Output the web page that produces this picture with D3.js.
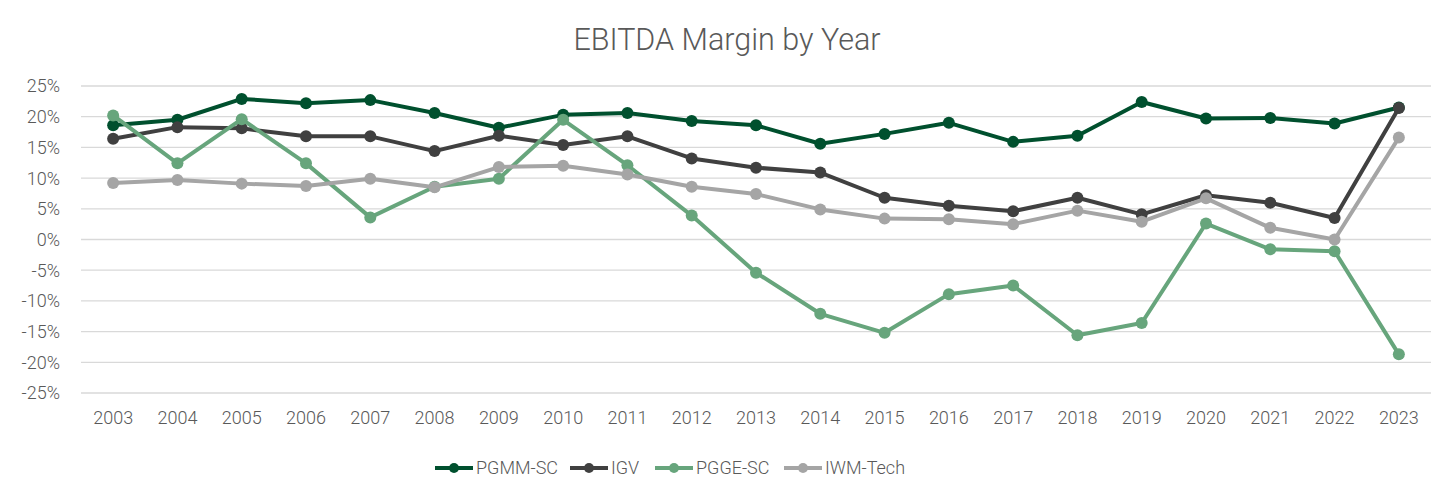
<!DOCTYPE html>
<html>
<head>
<meta charset="utf-8">
<script src="https://cdn.jsdelivr.net/npm/d3@7"></script>
<style>
  body { margin: 0; background: #fff; }
  svg text { font-family: Roboto, "Noto Sans", sans-serif; font-weight: 300; fill: #595959; }
</style>
</head>
<body>
<div id="chart"></div>
<script>
var years = ["2003","2004","2005","2006","2007","2008","2009","2010","2011","2012","2013",
             "2014","2015","2016","2017","2018","2019","2020","2021","2022","2023"];

var pgmm = [18.6, 19.5, 22.9, 22.2, 22.7, 20.6, 18.2, 20.3, 20.6, 19.3, 18.6,
            15.6, 17.2, 19.0, 15.9, 16.9, 22.4, 19.7, 19.8, 18.9, 21.5];
var igv  = [16.4, 18.3, 18.1, 16.8, 16.8, 14.4, 16.9, 15.4, 16.8, 13.2, 11.7,
            10.9, 6.8, 5.5, 4.6, 6.8, 4.1, 7.2, 6.0, 3.5, 21.4];
var pgge = [20.2, 12.4, 19.6, 12.4, 3.6, 8.6, 9.9, 19.5, 12.1, 3.9, -5.4,
            -12.1, -15.2, -8.9, -7.5, -15.6, -13.6, 2.6, -1.6, -1.9, -18.7];
var iwm  = [9.2, 9.7, 9.1, 8.7, 9.9, 8.5, 11.8, 12.0, 10.6, 8.6, 7.4,
            4.9, 3.4, 3.3, 2.5, 4.7, 2.9, 6.7, 1.9, 0.0, 16.6];

var yTicks = [-25, -20, -15, -10, -5, 0, 5, 10, 15, 20, 25];

var seriesNames = ["PGMM-SC", "IGV", "PGGE-SC", "IWM-Tech"];
var seriesColors = ["#00502e", "#404040", "#67a57c", "#a5a5a5"];
var seriesValues = [pgmm, igv, pgge, iwm];

var W = 1456, H = 501;
var svg = d3.select("#chart").append("svg")
  .attr("width", W)
  .attr("height", H);

var x = d3.scaleBand()
  .domain(years)
  .range([81, 1431])
  .padding(0);

var y = d3.scaleLinear()
  .domain([-25, 25])
  .range([393, 86]);

// gridlines + y labels
svg.append("g")
  .selectAll("line")
  .data(yTicks)
  .join("line")
  .attr("x1", 81)
  .attr("x2", 1431)
  .attr("y1", function(d) { return y(d); })
  .attr("y2", function(d) { return y(d); })
  .attr("stroke", "#d9d9d9")
  .attr("stroke-width", 1.3);

svg.append("g")
  .selectAll("text")
  .data(yTicks)
  .join("text")
  .attr("x", 60)
  .attr("y", function(d) { return y(d); })
  .attr("dy", "0.36em")
  .style("text-anchor", "end")
  .style("font-size", "18px")
  .text(function(d) { return d + "%"; });

// x axis labels
var xAxis = svg.append("g")
  .attr("transform", "translate(0," + 408 + ")")
  .call(d3.axisBottom(x).tickSize(0).tickPadding(0));
xAxis.select(".domain").remove();
xAxis.selectAll("text")
  .style("font-size", "18px")
  .attr("dy", "0.9em");

var line = d3.line()
  .x(function(d, i) { return x(years[i]) + x.bandwidth() / 2; })
  .y(function(d) { return y(d); });

seriesValues.forEach(function(vals, k) {
  var g = svg.append("g");
  g.append("path")
    .attr("d", line(vals))
    .attr("fill", "none")
    .attr("stroke", seriesColors[k])
    .attr("stroke-width", 4)
    .attr("stroke-linejoin", "round");
  g.selectAll("circle")
    .data(vals)
    .join("circle")
    .attr("cx", function(d, i) { return x(years[i]) + x.bandwidth() / 2; })
    .attr("cy", function(d) { return y(d); })
    .attr("r", 6)
    .attr("fill", seriesColors[k]);
});

// title
svg.append("text")
  .attr("x", 727)
  .attr("y", 50)
  .style("text-anchor", "middle")
  .style("font-size", "30.5px")
  .text("EBITDA Margin by Year");

// legend
var legendX = [435, 570, 655, 784];
var legend = svg.append("g");
seriesNames.forEach(function(name, k) {
  var lg = legend.append("g").attr("transform", "translate(" + legendX[k] + ",468)");
  lg.append("line")
    .attr("x1", 0).attr("x2", 38)
    .attr("stroke", seriesColors[k])
    .attr("stroke-width", 4);
  lg.append("circle")
    .attr("cx", 19).attr("r", 5)
    .attr("fill", seriesColors[k]);
  lg.append("text")
    .attr("x", 41)
    .attr("dy", "0.36em")
    .style("font-size", "18px")
    .text(name);
});
</script>
</body>
</html>
